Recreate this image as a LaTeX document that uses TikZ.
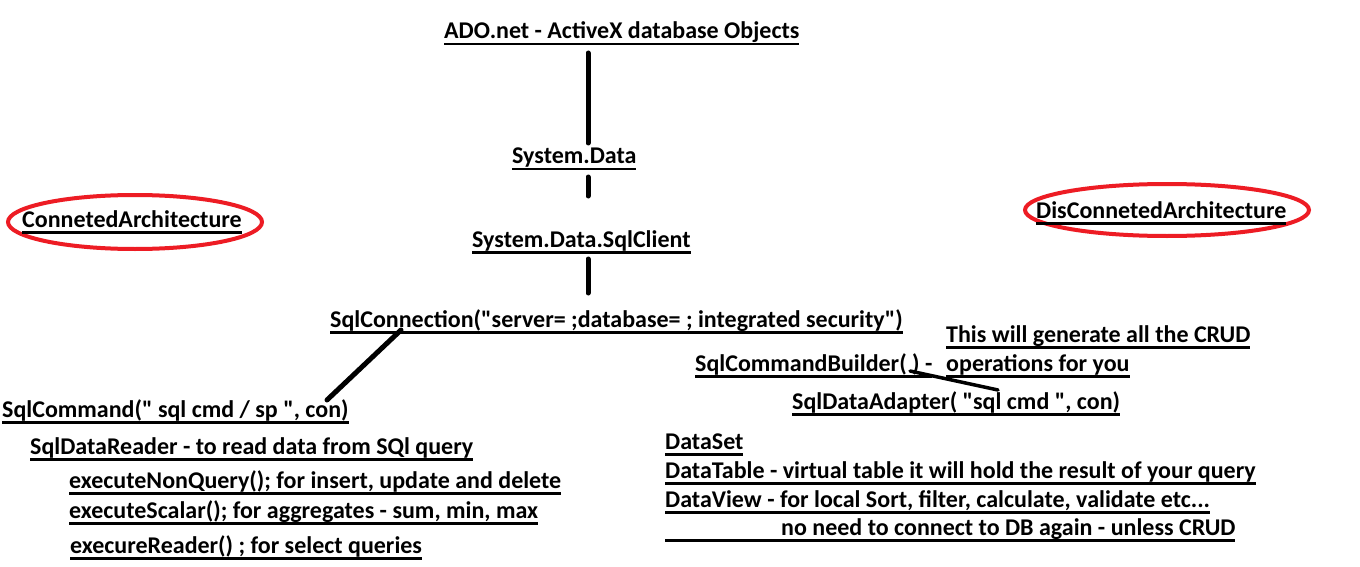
\documentclass[tikz,border=0pt]{standalone}
\usepackage{fontspec}
\setmainfont{Carlito}[Ligatures=TeXOff]
\usetikzlibrary{shapes.geometric}
\definecolor{ringred}{RGB}{237,28,36}
\newcommand\myul[1]{\setbox0\hbox{#1}\rlap{\usebox0}\rule[-6.5pt]{\wd0}{2.8pt}}
\tikzset{
  txt/.style={anchor=base west, inner sep=0pt, font=\fontsize{24}{28}\selectfont\bfseries},
  conn/.style={line width=5pt, line cap=round},
  thin conn/.style={line width=3.5pt, line cap=round},
  ring/.style={draw=ringred, line width=4pt, ellipse, inner sep=0pt}
}
\begin{document}
\begin{tikzpicture}[x=1pt,y=-1pt]
\fill[white] (0,0) rectangle (1360,567);
\useasboundingbox (0,0) rectangle (1360,567);

\node[ring, minimum width=254pt, minimum height=54pt] (ring1) at (135,222) {};
\node[ring, minimum width=284pt, minimum height=52pt] (ring2) at (1167,210) {};

\node[txt] (ado) at (444,39) {\myul{ADO.net - ActiveX database Objects}};
\node[txt] (sysdata) at (512,164) {\myul{System.Data}};
\node[txt] (sqlclient) at (472,247) {\myul{System.Data.SqlClient}};
\node[txt] (sqlconn) at (330,327) {\myul{SqlConnection("server= ;database= ; integrated security")}};
\node[txt] (connarch) at (22,227) {\myul{ConnetedArchitecture}};
\node[txt] (disarch) at (1036,218) {\myul{DisConnetedArchitecture}};

\node[txt] (sqlcmd) at (2,417) {\myul{SqlCommand(" sql cmd / sp ", con)}};
\node[txt] (reader) at (30,454) {\myul{SqlDataReader - to read data from SQl query}};
\node[txt] (nonq) at (69,488) {\myul{executeNonQuery(); for insert, update and delete}};
\node[txt] (scalar) at (69,518) {\myul{executeScalar(); for aggregates - sum, min, max}};
\node[txt] (execr) at (70,553) {\myul{execureReader() ; for select queries}};

\node[txt] (crud1) at (946,342) {\myul{This will generate all the CRUD}};
\node[txt] (builder) at (695,371) {\myul{SqlCommandBuilder( ) -}};
\node[txt] (crud2) at (946,371) {\myul{operations for you}};
\node[txt] (adapter) at (792,409) {\myul{SqlDataAdapter( "sql cmd ", con)}};

\node[txt] (dataset) at (665,449) {\myul{DataSet}};
\node[txt] (datatable) at (665,478) {\myul{DataTable - virtual table it will hold the result of your query}};
\node[txt] (dataview) at (665,507) {\myul{DataView - for local Sort, filter, calculate, validate etc...}};
\node[txt] (noneed) at (665,535) {\myul{\hspace{116pt}no need to connect to DB again - unless CRUD}};

\coordinate (v1a) at (588,53);
\coordinate (v1b) at (588,143);
\coordinate (v2a) at (588,177);
\coordinate (v2b) at (588,196);
\coordinate (v3a) at (588,259);
\coordinate (v3b) at (588,293);
\coordinate (d1a) at (401,330);
\coordinate (d1b) at (327,400);
\coordinate (d2a) at (910,371);
\coordinate (d2b) at (998,390);

\draw[conn] (v1a) -- (v1b);
\draw[conn] (v2a) -- (v2b);
\draw[conn] (v3a) -- (v3b);
\draw[conn] (d1a) -- (d1b);
\draw[thin conn] (d2a) -- (d2b);
\end{tikzpicture}
\end{document}
